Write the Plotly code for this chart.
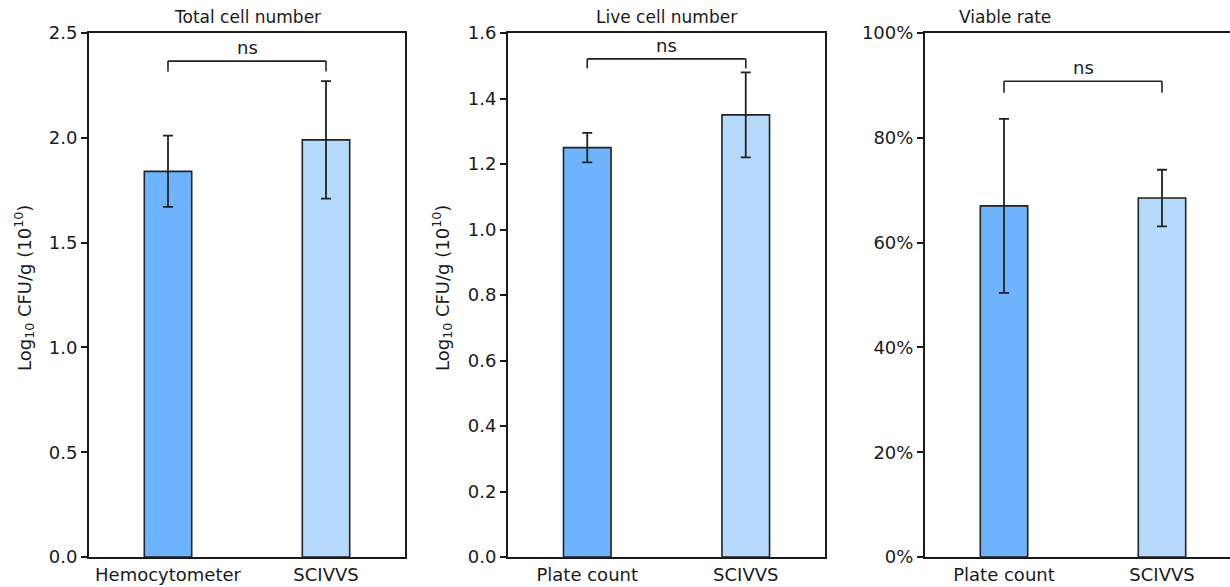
import plotly.graph_objects as go

# ---- data ----
titles = ["Total cell number", "Live cell number", "Viable rate"]
cats_total = ["Hemocytometer", "SCIVVS"]
cats_live = ["Plate count", "SCIVVS"]
cats_rate = ["Plate count", "SCIVVS"]

total_vals = [1.84, 1.99]
total_err = [0.17, 0.28]
live_vals = [1.25, 1.35]
live_err = [0.045, 0.13]
rate_vals = [67.0, 68.5]
rate_err = [16.6, 5.4]

total_ticks = [0.0, 0.5, 1.0, 1.5, 2.0, 2.5]
live_ticks = [0.0, 0.2, 0.4, 0.6, 0.8, 1.0, 1.2, 1.4, 1.6]
rate_ticks = [0, 20, 40, 60, 80, 100]

bracket_top = [2.366, 1.521, 90.8]
bracket_bottom = [2.316, 1.492, 88.6]
sig_labels = ["ns", "ns", "ns"]

bar_colors = ["#6db3fe", "#b5dafe"]
edge = "#222222"

W, H = 1230, 587
FONT = "DejaVu Sans"

def px(x):
    return x / W

def py(y):
    return (H - y) / H

fig = go.Figure()

panels = [
    (cats_total, total_vals, total_err, total_ticks, [0, 2.5], "%.1f"),
    (cats_live, live_vals, live_err, live_ticks, [0, 1.6], "%.1f"),
    (cats_rate, rate_vals, rate_err, rate_ticks, [0, 100], "pct"),
]
xdomains = [[px(89), px(405)], [px(508), px(825)], [px(925), 1.0]]
ydomain = [py(557), py(33)]
xranges = [[-0.5, 1.5], [-0.5, 1.5], [-0.5, -0.5 + (1230 - 925) / 158.0]]

for i, (cats, vals, errs, ticks, yr, fmt) in enumerate(panels):
    xa = "x" if i == 0 else f"x{i+1}"
    ya = "y" if i == 0 else f"y{i+1}"
    fig.add_trace(go.Bar(
        x=list(range(len(cats))), y=vals, width=0.3,
        marker=dict(color=bar_colors, line=dict(color=edge, width=1.6)),
        error_y=dict(type="data", array=errs, visible=True, color=edge,
                     thickness=1.8, width=5),
        xaxis=xa, yaxis=ya, showlegend=False, hoverinfo="skip",
    ))
    if fmt == "pct":
        ticktext = [f"{int(t)}%" for t in ticks]
    else:
        ticktext = [f"{t:.1f}" for t in ticks]
    axkey_x = "xaxis" if i == 0 else f"xaxis{i+1}"
    axkey_y = "yaxis" if i == 0 else f"yaxis{i+1}"
    fig.update_layout(**{
        axkey_x: dict(
            domain=xdomains[i], anchor=ya, range=xranges[i],
            tickmode="array", tickvals=list(range(len(cats))), ticktext=cats,
            showline=True, linecolor="#1a1a1a", linewidth=2,
            mirror=True, ticks="", showgrid=False, zeroline=False,
            tickfont=dict(family=FONT, size=18, color="#1a1a1a"),
            fixedrange=True, automargin=False,
        ),
        axkey_y: dict(
            domain=ydomain, anchor=xa, range=yr,
            tickmode="array", tickvals=ticks, ticktext=ticktext,
            showline=True, linecolor="#1a1a1a", linewidth=2,
            mirror=(i < 2), ticks="outside", ticklen=6, tickwidth=1.5,
            tickcolor="#1a1a1a", showgrid=False, zeroline=False,
            tickfont=dict(family=FONT, size=18, color="#1a1a1a"),
            fixedrange=True, automargin=False,
        ),
    })
    # significance bracket
    fig.add_shape(type="line", xref=xa, yref=ya,
                  x0=0, x1=0, y0=bracket_bottom[i], y1=bracket_top[i],
                  line=dict(color="#222222", width=1.6))
    fig.add_shape(type="line", xref=xa, yref=ya,
                  x0=0, x1=1, y0=bracket_top[i], y1=bracket_top[i],
                  line=dict(color="#222222", width=1.6))
    fig.add_shape(type="line", xref=xa, yref=ya,
                  x0=1, x1=1, y0=bracket_bottom[i], y1=bracket_top[i],
                  line=dict(color="#222222", width=1.6))
    fig.add_annotation(xref=xa, yref=ya, x=0.5, y=bracket_top[i],
                       text=sig_labels[i], showarrow=False, yanchor="bottom",
                       yshift=1, font=dict(family=FONT, size=18, color="#1a1a1a"))

# subplot titles
title_x = [247, 666, 1005]
for t, xc in zip(titles, title_x):
    fig.add_annotation(xref="paper", yref="paper", x=px(xc), y=py(17),
                       text=t, showarrow=False, xanchor="center", yanchor="middle",
                       font=dict(family=FONT, size=17, color="#1a1a1a"))

# y-axis titles
ylab = "Log<sub>10</sub> CFU/g (10<sup>10</sup>)"
for xc in [24, 442]:
    fig.add_annotation(xref="paper", yref="paper", x=px(xc), y=py(288),
                       text=ylab, showarrow=False, textangle=-90,
                       xanchor="center", yanchor="middle",
                       font=dict(family=FONT, size=18, color="#1a1a1a"))

fig.update_layout(
    width=W, height=H,
    margin=dict(l=0, r=0, t=0, b=0, autoexpand=False),
    paper_bgcolor="white", plot_bgcolor="white",
    bargap=0.7,
)

fig.write_html("out.html")
